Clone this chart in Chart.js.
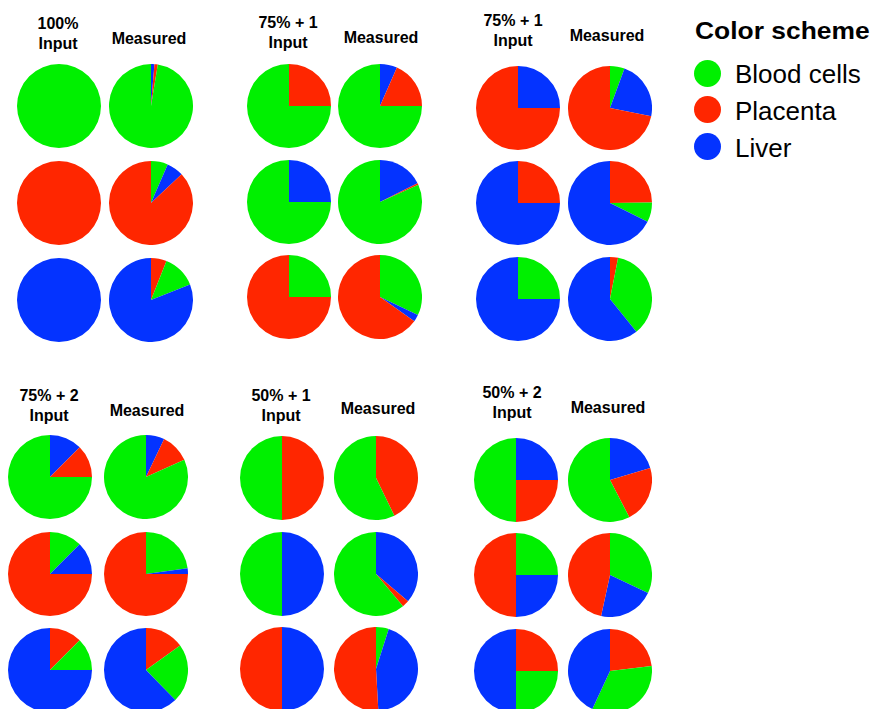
<!DOCTYPE html>
<html>
<head>
<meta charset="utf-8">
<script src="https://cdn.jsdelivr.net/npm/chart.js@4.4.1/dist/chart.umd.min.js"></script>
<style>
  html, body { margin: 0; padding: 0; background: #fff; }
  #fig { position: relative; width: 871px; height: 709px; overflow: hidden;
         font-family: "Liberation Sans", Arial, Helvetica, sans-serif; color: #000; }
  .hdr { position: absolute; width: 120px; text-align: center; font-weight: bold;
         font-size: 16px; line-height: 20px; white-space: nowrap; }
  .pie { position: absolute; }
  .legend-title { position: absolute; left: 695px; top: 19px; font-weight: bold; font-size: 24px;
                  line-height: 24px; white-space: nowrap; transform: scaleX(1.1); transform-origin: left top; }
  .legend-item { position: absolute; left: 735px; font-size: 26px; line-height: 26px; white-space: nowrap; }
  .legend-dot { position: absolute; width: 27px; height: 27px; border-radius: 50%; }
</style>
</head>
<body>
<div id="fig"></div>
<script>
// Tissues and their colours
const tissues = ['Blood cells', 'Placenta', 'Liver'];
const tissueColors = { blood: '#00F000', placenta: '#FF2600', liver: '#0433FF' };
const tissueKeys = ['blood', 'placenta', 'liver'];

// Panel titles (mixture type) and column captions
const panelTitles = ['100%', '75% + 1', '75% + 1', '75% + 2', '50% + 1', '50% + 2'];
const inputCaption = 'Input';
const measuredCaption = 'Measured';

// Slice shares (%) listed clockwise from 12 o'clock, one list per pie (rows top to bottom)
const input100 = [
  [['blood', 100]],
  [['placenta', 100]],
  [['liver', 100]]
];
const measured100 = [
  [['liver', 1.3], ['placenta', 1.3], ['blood', 97.4]],
  [['blood', 6.5], ['liver', 6.5], ['placenta', 87]],
  [['placenta', 6], ['blood', 13], ['liver', 81]]
];

const input75a = [
  [['placenta', 25], ['blood', 75]],
  [['liver', 25], ['blood', 75]],
  [['blood', 25], ['placenta', 75]]
];
const measured75a = [
  [['liver', 6.6], ['placenta', 18.4], ['blood', 75]],
  [['liver', 17.6], ['placenta', 0.7], ['blood', 81.7]],
  [['blood', 32.1], ['liver', 2.7], ['placenta', 65.2]]
];

const input75b = [
  [['liver', 25], ['placenta', 75]],
  [['placenta', 25], ['liver', 75]],
  [['blood', 25], ['liver', 75]]
];
const measured75b = [
  [['blood', 5.6], ['liver', 22.5], ['placenta', 71.9]],
  [['placenta', 24.8], ['blood', 7.6], ['liver', 67.6]],
  [['placenta', 3.1], ['blood', 36.1], ['liver', 60.8]]
];

const input75two = [
  [['liver', 12.5], ['placenta', 12.5], ['blood', 75]],
  [['blood', 12.5], ['liver', 12.5], ['placenta', 75]],
  [['placenta', 12.5], ['blood', 12.5], ['liver', 75]]
];
const measured75two = [
  [['liver', 7.1], ['placenta', 11.2], ['blood', 81.7]],
  [['blood', 22.8], ['liver', 2.2], ['placenta', 75]],
  [['placenta', 15.1], ['blood', 22.6], ['liver', 62.3]]
];

const input50one = [
  [['placenta', 50], ['blood', 50]],
  [['liver', 50], ['blood', 50]],
  [['liver', 50], ['placenta', 50]]
];
const measured50one = [
  [['placenta', 42.8], ['blood', 57.2]],
  [['liver', 36.2], ['placenta', 2.7], ['blood', 61.1]],
  [['blood', 4.9], ['liver', 44.2], ['placenta', 50.9]]
];

const input50two = [
  [['liver', 25], ['placenta', 25], ['blood', 50]],
  [['blood', 25], ['liver', 25], ['placenta', 50]],
  [['placenta', 25], ['blood', 25], ['liver', 50]]
];
const measured50two = [
  [['liver', 20.4], ['placenta', 22], ['blood', 57.6]],
  [['blood', 32], ['liver', 21.4], ['placenta', 46.6]],
  [['placenta', 23.1], ['blood', 33.8], ['liver', 43.1]]
];

const panelInputs = [input100, input75a, input75b, input75two, input50one, input50two];
const panelMeasured = [measured100, measured75a, measured75b, measured75two, measured50one, measured50two];

// Page layout: pie centres for each panel (input column x, measured column x, row y's)
const PIE_R = 42;
const panelLayout = [
  { xs: [59, 151], ys: [106, 203, 300], titleTop: 14, measTop: 29, titleX: 58,  measX: 149 },
  { xs: [289, 380], ys: [106, 202, 297], titleTop: 13, measTop: 28, titleX: 288, measX: 381 },
  { xs: [518, 610], ys: [108, 203, 299], titleTop: 11, measTop: 26, titleX: 513, measX: 607 },
  { xs: [50, 146], ys: [477, 574, 670], titleTop: 386, measTop: 401, titleX: 49,  measX: 147 },
  { xs: [282, 376], ys: [478, 574, 669], titleTop: 386, measTop: 399, titleX: 281, measX: 378 },
  { xs: [516, 610], ys: [480, 575, 671], titleTop: 383, measTop: 398, titleX: 512, measX: 608 }
];

const fig = document.getElementById('fig');

function addHeader(text, cx, top) {
  const d = document.createElement('div');
  d.className = 'hdr';
  d.style.left = (cx - 60) + 'px';
  d.style.top = top + 'px';
  d.innerHTML = text;
  fig.appendChild(d);
}

function addPie(slices, cx, cy) {
  const size = PIE_R * 2;
  const holder = document.createElement('div');
  holder.className = 'pie';
  holder.style.left = (cx - PIE_R) + 'px';
  holder.style.top = (cy - PIE_R) + 'px';
  holder.style.width = size + 'px';
  holder.style.height = size + 'px';
  const cv = document.createElement('canvas');
  cv.width = size;
  cv.height = size;
  holder.appendChild(cv);
  fig.appendChild(holder);
  const colors = slices.map(s => tissueColors[s[0]]);
  new Chart(cv, {
    type: 'pie',
    data: {
      labels: slices.map(s => tissues[tissueKeys.indexOf(s[0])]),
      datasets: [{
        data: slices.map(s => s[1]),
        backgroundColor: colors,
        borderColor: colors,
        borderWidth: 0
      }]
    },
    options: {
      responsive: false,
      animation: false,
      events: [],
      layout: { padding: 0 },
      plugins: { legend: { display: false }, tooltip: { enabled: false } }
    }
  });
}

panelLayout.forEach((p, i) => {
  addHeader(panelTitles[i] + '<br>' + inputCaption, p.titleX, p.titleTop);
  addHeader(measuredCaption, p.measX, p.measTop);
  panelInputs[i].forEach((slices, r) => addPie(slices, p.xs[0], p.ys[r]));
  panelMeasured[i].forEach((slices, r) => addPie(slices, p.xs[1], p.ys[r]));
});

// Colour key
const title = document.createElement('div');
title.className = 'legend-title';
title.textContent = 'Color scheme';
fig.appendChild(title);
const dotY = [73, 109.5, 146];
const textTop = [61, 98, 135];
tissues.forEach((name, i) => {
  const dot = document.createElement('div');
  dot.className = 'legend-dot';
  dot.style.left = (707.5 - 13.5) + 'px';
  dot.style.top = (dotY[i] - 13.5) + 'px';
  dot.style.background = tissueColors[tissueKeys[i]];
  fig.appendChild(dot);
  const t = document.createElement('div');
  t.className = 'legend-item';
  t.style.top = textTop[i] + 'px';
  t.textContent = name;
  fig.appendChild(t);
});
</script>
</body>
</html>
